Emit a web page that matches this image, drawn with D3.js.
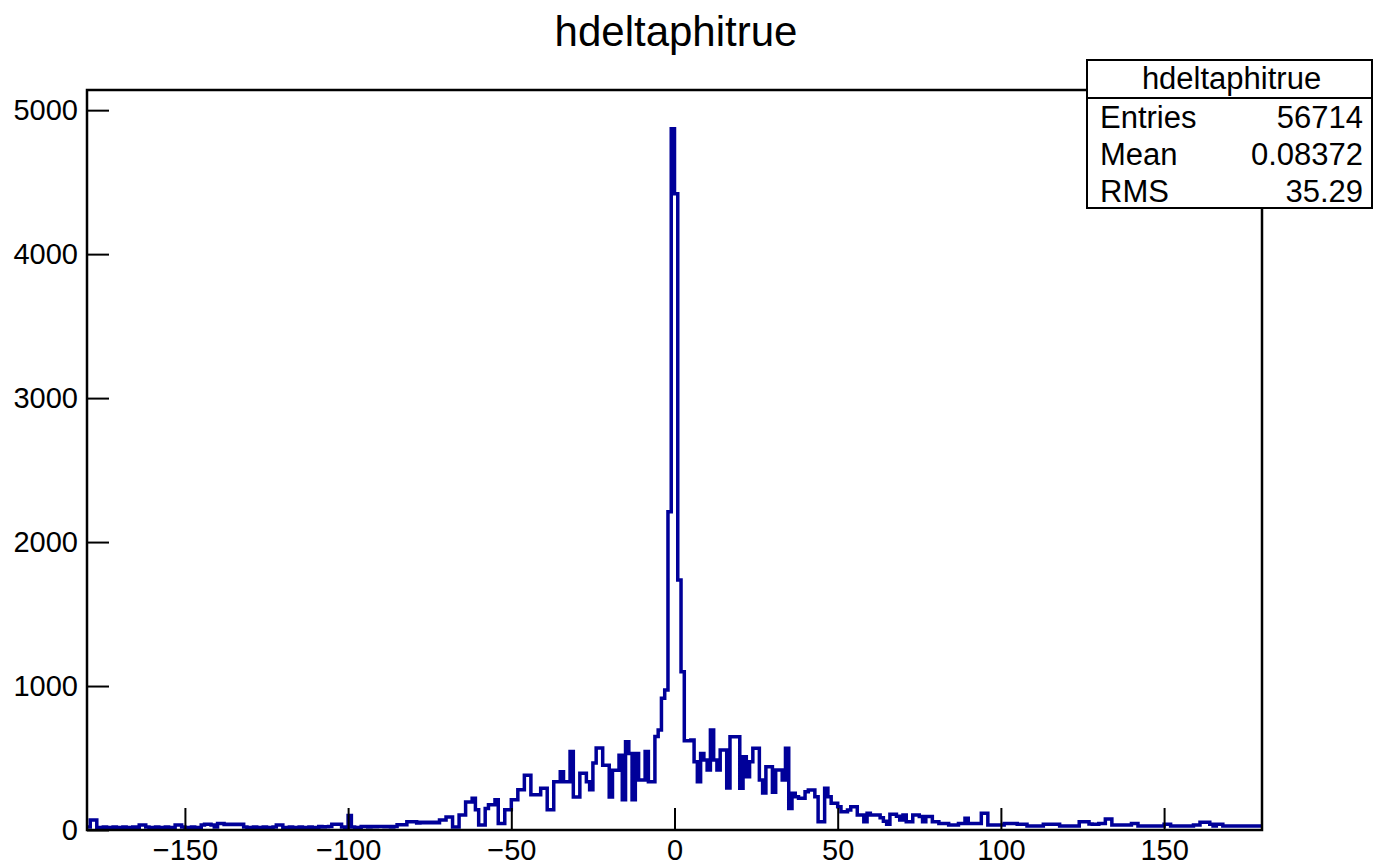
<!DOCTYPE html>
<html>
<head>
<meta charset="utf-8">
<script src="https://cdn.jsdelivr.net/npm/d3@7"></script>
<style>
body { margin: 0; background: #fff; }
svg { display: block; }
text { font-family: "Liberation Sans", Arial, Helvetica, sans-serif; fill: #000; }
</style>
</head>
<body>
<svg id="viz" width="1373" height="865"></svg>
<script>
// histogram hdeltaphitrue, 360 bins of width 1 from -180 to 180
const histTitle = "hdeltaphitrue";
const binLow = -180;
const binWidth = 1;
const counts = [
    // -180 .. -171
    20, 70, 70, 18, 15, 20, 15, 18, 20, 15,
    // -170 .. -161
    18, 20, 15, 18, 20, 16, 35, 35, 20, 18,
    // -160 .. -151
    15, 20, 18, 15, 20, 18, 15, 35, 35, 20,
    // -150 .. -141
    18, 15, 20, 18, 15, 35, 40, 40, 35, 20,
    // -140 .. -131
    45, 45, 38, 40, 38, 40, 38, 40, 20, 18,
    // -130 .. -121
    15, 20, 18, 15, 20, 18, 15, 20, 35, 35,
    // -120 .. -111
    18, 15, 20, 18, 15, 20, 15, 18, 20, 15,
    // -110 .. -101
    18, 25, 20, 22, 25, 40, 40, 40, 20, 18,
    // -100 .. -91
    100, 20, 18, 15, 25, 25, 20, 25, 22, 25,
    // -90 .. -81
    25, 22, 25, 20, 25, 36, 36, 36, 58, 58,
    // -80 .. -71
    58, 48, 54, 50, 54, 50, 54, 50, 70, 70,
    // -70 .. -61
    90, 90, 20, 20, 105, 105, 195, 195, 220, 140,
    // -60 .. -51
    35, 35, 150, 175, 175, 210, 45, 45, 140, 140,
    // -50 .. -41
    210, 210, 280, 280, 380, 380, 245, 245, 245, 290,
    // -40 .. -31
    290, 140, 140, 335, 335, 405, 335, 335, 545, 230,
    // -30 .. -21
    230, 395, 395, 335, 280, 465, 570, 570, 450, 450,
    // -20 .. -11
    230, 415, 415, 520, 210, 613, 532, 210, 532, 347,
    // -10 .. -1
    347, 545, 335, 335, 650, 694, 915, 972, 2210, 4870,
    // 0 .. 9
    4420, 1736, 1100, 620, 620, 625, 474, 335, 532, 486,
    // 10 .. 19
    417, 694, 486, 417, 555, 555, 292, 648, 648, 648,
    // 20 .. 29
    290, 509, 370, 474, 567, 567, 347, 257, 440, 440,
    // 30 .. 39
    262, 417, 417, 347, 567, 150, 255, 231, 220, 220,
    // 40 .. 49
    266, 278, 278, 231, 58, 58, 290, 231, 185, 185,
    // 50 .. 59
    162, 127, 127, 139, 162, 162, 104, 104, 58, 116,
    // 60 .. 69
    104, 104, 104, 85, 60, 40, 110, 110, 95, 70,
    // 70 .. 79
    104, 58, 58, 104, 104, 93, 58, 93, 93, 58,
    // 80 .. 89
    58, 46, 46, 46, 35, 35, 35, 46, 46, 81,
    // 90 .. 99
    46, 46, 46, 46, 116, 116, 35, 35, 35, 35,
    // 100 .. 109
    35, 46, 46, 46, 46, 40, 40, 40, 27, 27,
    // 110 .. 119
    27, 27, 27, 40, 40, 40, 40, 40, 27, 27,
    // 120 .. 129
    27, 27, 27, 27, 58, 58, 58, 42, 40, 40,
    // 130 .. 139
    46, 46, 76, 76, 35, 35, 35, 35, 35, 35,
    // 140 .. 149
    46, 46, 27, 27, 27, 27, 27, 27, 27, 27,
    // 150 .. 159
    40, 40, 27, 27, 27, 27, 27, 27, 27, 35,
    // 160 .. 169
    35, 53, 53, 53, 40, 27, 40, 40, 27, 27,
    // 170 .. 179
    27, 27, 27, 27, 27, 27, 27, 27, 27, 27
];
const statsLabels = ["Entries", "Mean", "RMS"];
const statsValues = ["56714", "0.08372", "35.29"];
const xTickValues = [-150, -100, -50, 0, 50, 100, 150];
const yTickValues = [0, 1000, 2000, 3000, 4000, 5000];

var svg = d3.select("#viz");
var frame = {left: 87, right: 1262, top: 90, bottom: 830};
var histColor = "#000099";

var x = d3.scaleLinear()
    .domain([-180, 180])
    .range([frame.left, frame.right]);
var y = d3.scaleLinear()
    .domain([0, 5140])
    .range([frame.bottom, frame.top]);

// title
svg.append("text")
    .attr("x", 676)
    .attr("y", 46)
    .attr("text-anchor", "middle")
    .style("font-size", "42px")
    .text(histTitle);

// step outline of the histogram
let steps = [];
counts.forEach((c, i) => {
    let lo = binLow + i * binWidth;
    steps.push([lo, c]);
    steps.push([lo + binWidth, c]);
});
var line = d3.line()
    .x(d => x(d[0]))
    .y(d => y(d[1]));

svg.append("path")
    .datum(steps)
    .attr("fill", "none")
    .attr("stroke", histColor)
    .attr("stroke-width", 3.5)
    .attr("stroke-linejoin", "miter")
    .attr("d", line);

// x axis, ticks point inwards like ROOT
var xAxisG = svg.append("g")
    .attr("transform", `translate(0,${frame.bottom})`);
xAxisG.call(d3.axisBottom(x)
    .tickValues(d3.range(-170, 180, 10))
    .tickSize(-11)
    .tickFormat(""));
xAxisG.call(d3.axisBottom(x)
    .tickValues(xTickValues)
    .tickSize(-22)
    .tickPadding(10)
    .tickFormat(d => String(d).replace("-", "\u2212")));
xAxisG.selectAll(".domain").remove();
xAxisG.selectAll("line").attr("stroke", "#000").attr("stroke-width", 2);
xAxisG.selectAll("text")
    .style("font-size", "29px")
    .attr("y", 9)
    .attr("dy", "0.71em");

var yAxisG = svg.append("g")
    .attr("transform", `translate(${frame.left},0)`);
yAxisG.call(d3.axisLeft(y)
    .tickValues(d3.range(0, 5140, 200))
    .tickSize(-11)
    .tickFormat(""));
yAxisG.call(d3.axisLeft(y)
    .tickValues(yTickValues)
    .tickSize(-22)
    .tickPadding(10)
    .tickFormat(d => d));
yAxisG.selectAll(".domain").remove();
yAxisG.selectAll("line").attr("stroke", "#000").attr("stroke-width", 2);
yAxisG.selectAll("text")
    .style("font-size", "29px")
    .attr("x", -9);

// frame
svg.append("rect")
    .attr("x", frame.left)
    .attr("y", frame.top)
    .attr("width", frame.right - frame.left)
    .attr("height", frame.bottom - frame.top)
    .attr("fill", "none")
    .attr("stroke", "#000")
    .attr("stroke-width", 2.5);

// stats box
var box = {x: 1087, y: 60, w: 285, h: 148, head: 38};
var stats = svg.append("g");
stats.append("rect")
    .attr("x", box.x)
    .attr("y", box.y)
    .attr("width", box.w)
    .attr("height", box.h)
    .attr("fill", "#fff")
    .attr("stroke", "#000")
    .attr("stroke-width", 2);
stats.append("line")
    .attr("x1", box.x).attr("x2", box.x + box.w)
    .attr("y1", box.y + box.head).attr("y2", box.y + box.head)
    .attr("stroke", "#000")
    .attr("stroke-width", 2);
stats.append("text")
    .attr("x", box.x + box.w / 2 + 2)
    .attr("y", box.y + 29)
    .attr("text-anchor", "middle")
    .style("font-size", "31px")
    .text(histTitle);
statsLabels.forEach((lab, i) => {
    let by = box.y + box.head + 30 + i * 37;
    stats.append("text")
        .attr("x", box.x + 13)
        .attr("y", by)
        .style("font-size", "31px")
        .text(lab);
    stats.append("text")
        .attr("x", box.x + box.w - 9)
        .attr("y", by)
        .attr("text-anchor", "end")
        .style("font-size", "31px")
        .text(statsValues[i]);
});
</script>
</body>
</html>
